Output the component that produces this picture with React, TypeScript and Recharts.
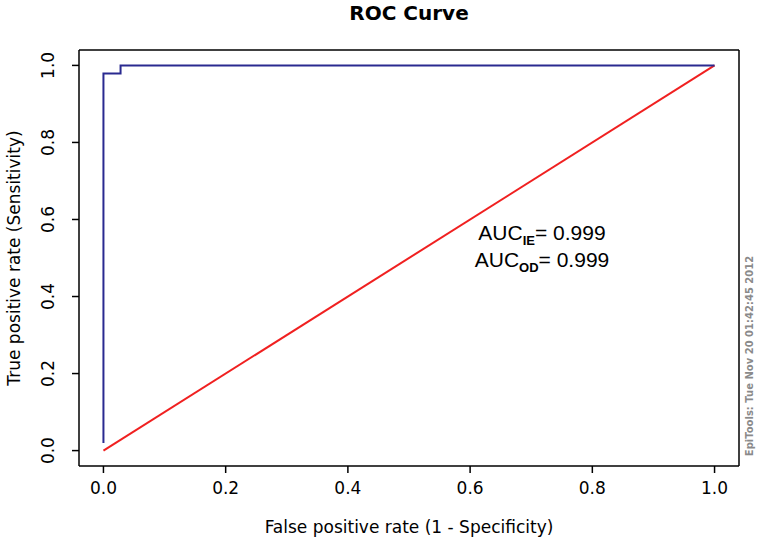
import React from 'react';
import { ComposedChart, Line, XAxis, YAxis } from 'recharts';

// Tick values
const xTicks = [0, 0.2, 0.4, 0.6, 0.8, 1.0];
const yTicks = [0, 0.2, 0.4, 0.6, 0.8, 1.0];

// ROC curve (false positive rate, true positive rate)
const rocFpr = [0, 0, 0.028, 0.028, 1];
const rocTpr = [0.02, 0.979, 0.979, 1, 1];

// Reference diagonal
const refFpr = [0, 1];
const refTpr = [0, 1];

// Annotation texts
const chartTitle = 'ROC Curve';
const xTitle = 'False positive rate (1 - Specificity)';
const yTitle = 'True positive rate (Sensitivity)';
const aucIE = '0.999';
const aucOD = '0.999';
const stamp = 'EpiTools: Tue Nov 20 01:42:45 2012';

const rocData = rocFpr.map((x, i) => ({ x, y: rocTpr[i] }));
const refData = refFpr.map((x, i) => ({ x, y: refTpr[i] }));

const FONT = '"DejaVu Sans", sans-serif';
const DOMAIN: [number, number] = [-0.04, 1.04];

const W = 759;
const H = 541;
// plot area: left 79, top 50, right 739, bottom 466
const M = { top: 49, right: 19, bottom: 35, left: 19 };

const XTick = (props: any) => {
  const { x, y, payload } = props;
  return (
    <text x={x} y={y + 21} textAnchor="middle" fontFamily={FONT} fontSize={17} fill="#000">
      {Number(payload.value).toFixed(1)}
    </text>
  );
};

const YTick = (props: any) => {
  const { x, y, payload } = props;
  const bx = x - 18;
  return (
    <text
      x={bx}
      y={y}
      textAnchor="middle"
      fontFamily={FONT}
      fontSize={17}
      fill="#000"
      transform={`rotate(-90, ${bx}, ${y})`}
    >
      {Number(payload.value).toFixed(1)}
    </text>
  );
};

export default function App() {
  const plotCx = 409;
  const plotCy = 258;
  return (
    <div style={{ position: 'absolute', left: 0, top: 0, width: W, height: H, background: '#fff' }}>
      <ComposedChart width={W} height={H} margin={M} data={rocData}>
        <XAxis
          xAxisId="b"
          dataKey="x"
          type="number"
          domain={DOMAIN}
          ticks={xTicks}
          allowDataOverflow
          height={40}
          orientation="bottom"
          axisLine={{ stroke: '#000', strokeWidth: 1.5 }}
          tickLine={{ stroke: '#000', strokeWidth: 1.5 }}
          tickSize={7}
          tickMargin={0}
          tick={<XTick />}
          interval={0}
        />
        <XAxis
          xAxisId="t"
          dataKey="x"
          type="number"
          domain={DOMAIN}
          allowDataOverflow
          height={1}
          orientation="top"
          axisLine={{ stroke: '#000', strokeWidth: 1.5 }}
          tickLine={false}
          tick={false}
        />
        <YAxis
          yAxisId="l"
          type="number"
          domain={DOMAIN}
          ticks={yTicks}
          allowDataOverflow
          width={60}
          orientation="left"
          axisLine={{ stroke: '#000', strokeWidth: 1.5 }}
          tickLine={{ stroke: '#000', strokeWidth: 1.5 }}
          tickSize={7}
          tickMargin={0}
          tick={<YTick />}
          interval={0}
        />
        <YAxis
          yAxisId="r"
          type="number"
          domain={DOMAIN}
          allowDataOverflow
          width={1}
          orientation="right"
          axisLine={{ stroke: '#000', strokeWidth: 1.5 }}
          tickLine={false}
          tick={false}
        />
        <Line
          xAxisId="b"
          yAxisId="l"
          data={refData}
          dataKey="y"
          type="linear"
          stroke="#f02020"
          strokeWidth={2}
          dot={false}
          activeDot={false}
          isAnimationActive={false}
          legendType="none"
        />
        <Line
          xAxisId="b"
          yAxisId="l"
          data={rocData}
          dataKey="y"
          type="linear"
          stroke="#2a2a90"
          strokeWidth={2}
          dot={false}
          activeDot={false}
          isAnimationActive={false}
          legendType="none"
        />
        <Line
          xAxisId="t"
          yAxisId="r"
          data={refData}
          dataKey="y"
          stroke="none"
          dot={false}
          activeDot={false}
          isAnimationActive={false}
          legendType="none"
        />
      </ComposedChart>
      <svg
        width={W}
        height={H}
        style={{ position: 'absolute', left: 0, top: 0, pointerEvents: 'none' }}
      >
        <text x={plotCx} y={20} textAnchor="middle" fontFamily={FONT} fontWeight="bold" fontSize={20} fill="#000">
          {chartTitle}
        </text>
        <text x={plotCx} y={533} textAnchor="middle" fontFamily={FONT} fontSize={17} fill="#000">
          {xTitle}
        </text>
        <text
          x={20}
          y={plotCy}
          textAnchor="middle"
          fontFamily={FONT}
          fontSize={17}
          fill="#000"
          transform={`rotate(-90, 20, ${plotCy})`}
        >
          {yTitle}
        </text>
        <text x={542} y={240} textAnchor="middle" fontFamily='"Liberation Sans", Arial, sans-serif' fontSize={21} fill="#000">
          AUC
          <tspan fontSize={13} fontWeight="bold" dy={5}>IE</tspan>
          <tspan dy={-5}>= {aucIE}</tspan>
        </text>
        <text x={542} y={267} textAnchor="middle" fontFamily='"Liberation Sans", Arial, sans-serif' fontSize={21} fill="#000">
          AUC
          <tspan fontSize={13} fontWeight="bold" dy={5}>OD</tspan>
          <tspan dy={-5}>= {aucOD}</tspan>
        </text>
        <text
          x={753}
          y={356}
          textAnchor="middle"
          fontFamily={FONT}
          fontWeight="bold"
          fontSize={10}
          fill="#8a8a8a"
          transform={`rotate(-90, 753, 356)`}
        >
          {stamp}
        </text>
      </svg>
    </div>
  );
}
